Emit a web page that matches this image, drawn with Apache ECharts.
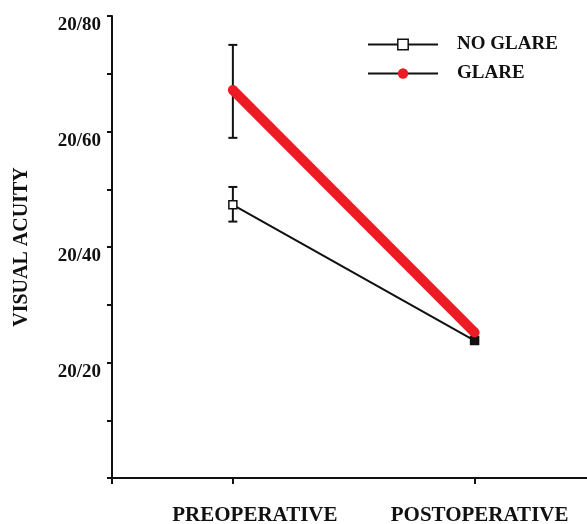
<!DOCTYPE html>
<html><head><meta charset="utf-8">
<script src="https://cdn.jsdelivr.net/npm/echarts@6/dist/echarts.min.js"></script>
<style>html,body{margin:0;padding:0;background:#fff}#c{width:587px;height:524px}</style>
</head><body><div id="c"></div>
<script>
// Data
const categories = ['PREOPERATIVE', 'POSTOPERATIVE'];
const categoryX = [1, 3];
const noGlare = [47.3, 23.8];
const noGlareErrLow = [44.4, null];
const noGlareErrHigh = [50.4, null];
const glare = [67.2, 25.2];
const glareErrLow = [58.9, null];
const glareErrHigh = [75.0, null];
const yTickLabels = {20: '20/20', 40: '20/40', 60: '20/60', 80: '20/80'};

const serif = '"Liberation Serif","Times New Roman",serif';
const ink = '#111';
const red = '#ec1c24';

const pts = (vals) => vals.map((v, i) => [categoryX[i], v]);
const errs = [];
categoryX.forEach((x, i) => {
  if (noGlareErrLow[i] != null) errs.push([x, noGlareErrLow[i], noGlareErrHigh[i]]);
  if (glareErrLow[i] != null) errs.push([x, glareErrLow[i], glareErrHigh[i]]);
});

const chart = echarts.init(document.getElementById('c'), null, {renderer: 'canvas'});
chart.setOption({
  animation: false,
  backgroundColor: '#fff',
  grid: {left: 112, right: 0, top: 16, bottom: 46, containLabel: false, outerBoundsMode: 'none'},
  legend: {
    orient: 'vertical', left: 362, top: 30, itemWidth: 70, itemHeight: 13, itemGap: 10,
    textStyle: {fontFamily: serif, fontWeight: 'bold', fontSize: 19, color: ink, padding: [0, 0, 0, 14]},
    data: [
      {name: 'NO GLARE', lineStyle: {color: ink, width: 2}, itemStyle: {color: '#fff', borderColor: ink, borderWidth: 1.5}},
      {name: 'GLARE', lineStyle: {color: ink, width: 2}, itemStyle: {color: red}}
    ]
  },
  xAxis: {
    type: 'value', min: 0, max: 3.93, interval: 1,
    splitLine: {show: false},
    axisLine: {show: true, onZero: false, lineStyle: {color: ink, width: 2}},
    axisTick: {show: true, customValues: [0].concat(categoryX), length: 6, lineStyle: {color: ink, width: 2}},
    axisLabel: {
      customValues: categoryX, margin: 27, color: ink,
      fontFamily: serif, fontWeight: 'bold', fontSize: 21,
      formatter: (v) => { const i = categoryX.indexOf(v); return i === 0 ? '{a|' + categories[i] + '}' : '{b|' + categories[i] + '}'; },
      rich: {
        a: {fontFamily: serif, fontWeight: 'bold', fontSize: 21, color: ink, padding: [0, 0, 0, 44]},
        b: {fontFamily: serif, fontWeight: 'bold', fontSize: 21, color: ink, padding: [0, 0, 0, 10]}
      }
    }
  },
  yAxis: {
    type: 'value', min: 0, max: 80, interval: 10,
    name: 'VISUAL ACUITY', nameLocation: 'middle', nameGap: 80, nameRotate: 90,
    nameTextStyle: {fontFamily: serif, fontWeight: 'bold', fontSize: 20, color: ink},
    splitLine: {show: false},
    axisLine: {show: true, lineStyle: {color: ink, width: 2}},
    axisTick: {show: true, length: 5, lineStyle: {color: ink, width: 2}},
    axisLabel: {
      margin: 11, color: ink, fontFamily: serif, fontWeight: 'bold', fontSize: 19,
      verticalAlign: 'top',
      formatter: (v) => yTickLabels[v] || ''
    }
  },
  series: [
    {
      type: 'custom', name: 'err', z: 1, silent: true,
      data: errs,
      renderItem: (params, api) => {
        const x = api.value(0);
        const lo = api.coord([x, api.value(1)]);
        const hi = api.coord([x, api.value(2)]);
        const w = 4.5;
        const st = {stroke: ink, lineWidth: 2};
        return {type: 'group', children: [
          {type: 'line', shape: {x1: lo[0], y1: lo[1], x2: hi[0], y2: hi[1]}, style: st},
          {type: 'line', shape: {x1: lo[0] - w, y1: lo[1], x2: lo[0] + w, y2: lo[1]}, style: st},
          {type: 'line', shape: {x1: hi[0] - w, y1: hi[1], x2: hi[0] + w, y2: hi[1]}, style: st}
        ]};
      }
    },
    {
      type: 'line', name: 'NO GLARE', z: 3,
      data: pts(noGlare).map((p, i) => i === 1 ? {value: p, itemStyle: {color: ink}} : p),
      symbol: 'rect', symbolSize: 8, showSymbol: true,
      lineStyle: {color: ink, width: 2},
      itemStyle: {color: '#fff', borderColor: ink, borderWidth: 1.5}
    },
    {
      type: 'line', name: 'GLARE', z: 4,
      data: pts(glare),
      symbol: 'circle', symbolSize: 10, showSymbol: true,
      lineStyle: {color: red, width: 10, cap: 'butt'},
      itemStyle: {color: red}
    }
  ]
});
</script></body></html>
